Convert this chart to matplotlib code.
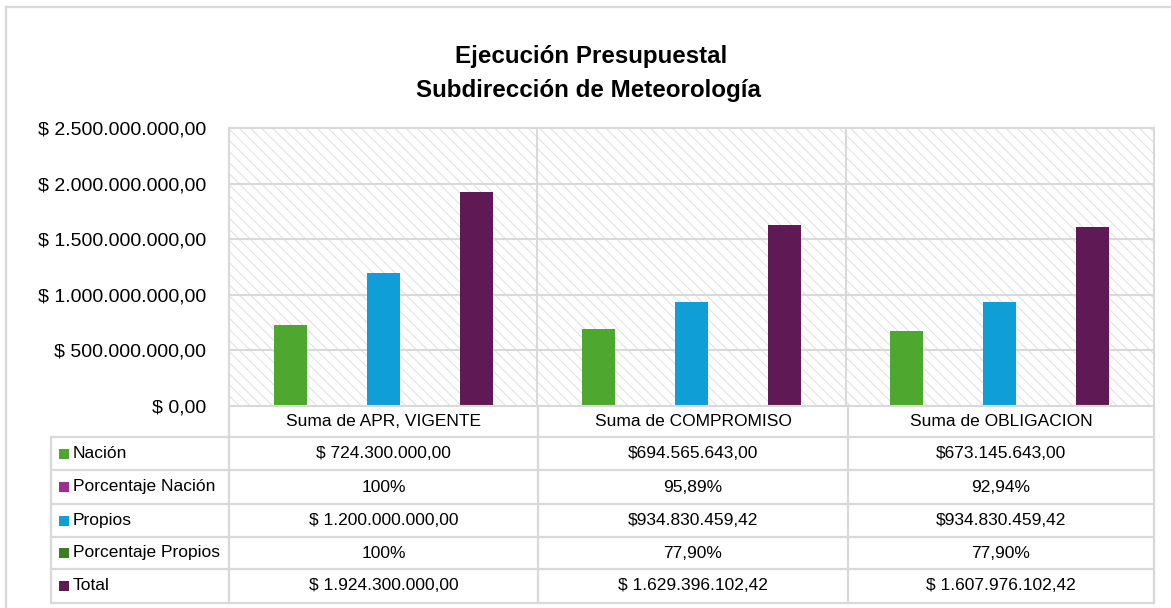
import matplotlib
matplotlib.use("Agg")
import matplotlib.pyplot as plt
from matplotlib import font_manager
from matplotlib.patches import Rectangle
from matplotlib.lines import Line2D
from matplotlib.ticker import FuncFormatter

# categorias y series
categories = ["Suma de APR, VIGENTE", "Suma de COMPROMISO", "Suma de OBLIGACION"]
series_names = ["Nación", "Porcentaje Nación", "Propios", "Porcentaje Propios", "Total"]
nacion = [724300000.00, 694565643.00, 673145643.00]
pct_nacion = [1.0, 0.9589, 0.9294]
propios = [1200000000.00, 934830459.42, 934830459.42]
pct_propios = [1.0, 0.7790, 0.7790]
total = [1924300000.00, 1629396102.42, 1607976102.42]

# textos de la tabla de datos
table_text = [
    ["$ 724.300.000,00", "$694.565.643,00", "$673.145.643,00"],
    ["100%", "95,89%", "92,94%"],
    ["$ 1.200.000.000,00", "$934.830.459,42", "$934.830.459,42"],
    ["100%", "77,90%", "77,90%"],
    ["$ 1.924.300.000,00", "$ 1.629.396.102,42", "$ 1.607.976.102,42"],
]
yticks = [0, 500000000, 1000000000, 1500000000, 2000000000, 2500000000]

colors = ["#4EA72E", "#A02B93", "#0F9ED5", "#3B7D23", "#5F1A56"]
grid_c = "#d9d9d9"

installed = {f.name for f in font_manager.fontManager.ttflist}
family = next((f for f in ["Liberation Sans Narrow", "Arial Narrow", "Liberation Sans"]
               if f in installed), "DejaVu Sans")
plt.rcParams["font.family"] = [family, "DejaVu Sans"]
narrow = "Narrow" in family
k = 1.0 if not narrow else 1.2  # tamaño si la fuente es estrecha

W, H = 1171, 608
fig = plt.figure(figsize=(W / 100, H / 100), dpi=100)


def fx(x):
    return x / W


def fy(y):
    return 1 - y / H


# marco exterior
fig.add_artist(Line2D([fx(6), fx(6)], [fy(7), fy(608)], color=grid_c, lw=1.6))
fig.add_artist(Line2D([fx(6), fx(1171)], [fy(7), fy(7)], color=grid_c, lw=1.6))

left, right, top, bottom = 229, 1154, 128, 406
ax = fig.add_axes([fx(left), fy(bottom), fx(right - left), (bottom - top) / H])
ax.set_xlim(-0.5, 2.5)
ax.set_ylim(0, 2500000000)

# fondo rayado
plt.rcParams["hatch.linewidth"] = 0.8
ax.add_patch(Rectangle((0, 0), 1, 1, transform=ax.transAxes, facecolor="white",
                       edgecolor="#e2e2e2", hatch="\\\\\\", lw=0, zorder=0))

for y in yticks[1:-1]:
    ax.axhline(y, color=grid_c, lw=1.5, zorder=1)
for xv in [0.5, 1.5]:
    ax.axvline(xv, color=grid_c, lw=1.5, zorder=1)

values = [nacion, pct_nacion, propios, pct_propios, total]
xs = list(range(len(categories)))
for i, vals in enumerate(values):
    ax.bar([x + (i - 2) * 0.151 for x in xs], vals, width=0.107,
           color=colors[i], zorder=2)

ax.set_xticks([])
ax.set_yticks(yticks)
ax.yaxis.set_major_formatter(FuncFormatter(
    lambda v, p: "$ " + f"{v:,.2f}".replace(",", "X").replace(".", ",").replace("X", ".")))
ax.tick_params(axis="y", length=0, pad=16.5, labelsize=14 * k)
for s in ax.spines.values():
    s.set_color(grid_c)
    s.set_linewidth(1.5)

# titulo
fig.text(fx(591), fy(56), "Ejecución Presupuestal", ha="center", va="center",
         fontsize=17.4 * k, fontweight="bold")
fig.text(fx(588), fy(90), "Subdirección de Meteorología", ha="center", va="center",
         fontsize=17.4 * k, fontweight="bold")

# tabla de datos
col_edges = [229, 538, 848, 1154]
row_edges = [406, 437, 470, 504, 537, 569, 603]
tl = 51
lc = dict(color=grid_c, lw=1.6)
for y in row_edges[1:]:
    fig.add_artist(Line2D([fx(tl), fx(right)], [fy(y), fy(y)], **lc))
fig.add_artist(Line2D([fx(tl), fx(tl)], [fy(437), fy(603)], **lc))
for x in col_edges:
    fig.add_artist(Line2D([fx(x), fx(x)], [fy(406), fy(603)], **lc))

fs = 12.5 * k
for j, cat in enumerate(categories):
    cx = (col_edges[j] + col_edges[j + 1]) / 2
    fig.text(fx(cx), fy(422), cat, ha="center", va="center", fontsize=fs)

for i, name in enumerate(series_names):
    cy = (row_edges[i + 1] + row_edges[i + 2]) / 2
    fig.add_artist(Rectangle((fx(59), fy(cy + 5)), 10 / W, 10 / H,
                             facecolor=colors[i], edgecolor="none"))
    fig.text(fx(73), fy(cy), name, ha="left", va="center", fontsize=fs)
    for j in range(len(categories)):
        cx = (col_edges[j] + col_edges[j + 1]) / 2
        fig.text(fx(cx), fy(cy), table_text[i][j], ha="center", va="center", fontsize=fs)

fig.savefig("out.png", dpi=100)
